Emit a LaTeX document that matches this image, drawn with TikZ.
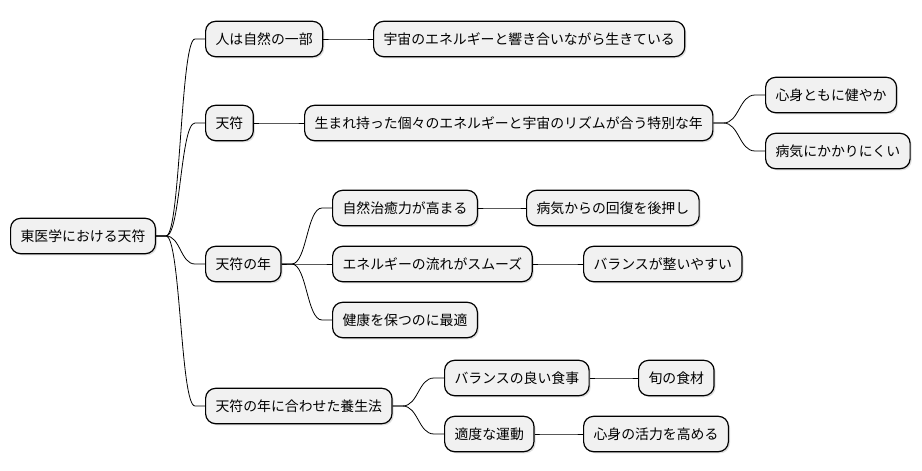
\documentclass[tikz,border=0pt]{standalone}
\usepackage{fontspec}
\setmainfont{Noto Sans CJK JP}
\usetikzlibrary{calc,shadows}
\definecolor{boxfill}{HTML}{F1F1F1}
\tikzset{
  mmbox/.style={draw=black, line width=0.9pt, fill=boxfill, rounded corners=7.5pt,
    anchor=west, minimum height=26.5pt, inner xsep=7.5pt, inner ysep=0pt,
    font=\fontsize{10.4pt}{12pt}\selectfont,
    drop shadow={shadow xshift=1.2pt, shadow yshift=-1.2pt, opacity=0.25}},
  link/.style={draw=black, line width=0.6pt}
}
\newcommand\mmlink[2]{%
  \path ($(#1.east)!0.5!(#2.west)$) coordinate (mm);
  \draw[link] (#1.east) -- ([xshift=7.5pt]#1.east) .. controls (mm |- #1.east) and (mm |- #2.west) .. ([xshift=-7.5pt]#2.west) -- (#2.west);}
\begin{document}
\begin{tikzpicture}[x=0.75pt,y=-0.75pt]
\useasboundingbox (0,0) rectangle (922,471);
\node[mmbox] (root) at (10,236) {東医学における天符};
\node[mmbox] (n1) at (205,39) {人は自然の一部};
\node[mmbox] (n2) at (205,123) {天符};
\node[mmbox] (n3) at (205,264) {天符の年};
\node[mmbox] (n4) at (205,406) {天符の年に合わせた養生法};
\node[mmbox] (n1a) at (373,39) {宇宙のエネルギーと響き合いながら生きている};
\node[mmbox] (n2a) at (304,123) {生まれ持った個々のエネルギーと宇宙のリズムが合う特別な年};
\node[mmbox] (n2a1) at (765,95) {心身ともに健やか};
\node[mmbox] (n2a2) at (765,151) {病気にかかりにくい};
\node[mmbox] (n3a) at (332,208) {自然治癒力が高まる};
\node[mmbox] (n3b) at (332,264) {エネルギーの流れがスムーズ};
\node[mmbox] (n3c) at (332,320) {健康を保つのに最適};
\node[mmbox] (n3a1) at (526,208) {病気からの回復を後押し};
\node[mmbox] (n3b1) at (583,264) {バランスが整いやすい};
\node[mmbox] (n4a) at (444,378) {バランスの良い食事};
\node[mmbox] (n4b) at (444,434) {適度な運動};
\node[mmbox] (n4a1) at (638,378) {旬の食材};
\node[mmbox] (n4b1) at (583,434) {心身の活力を高める};
\mmlink{root}{n1}
\mmlink{root}{n2}
\mmlink{root}{n3}
\mmlink{root}{n4}
\mmlink{n1}{n1a}
\mmlink{n2}{n2a}
\mmlink{n2a}{n2a1}
\mmlink{n2a}{n2a2}
\mmlink{n3}{n3a}
\mmlink{n3}{n3b}
\mmlink{n3}{n3c}
\mmlink{n3a}{n3a1}
\mmlink{n3b}{n3b1}
\mmlink{n4}{n4a}
\mmlink{n4}{n4b}
\mmlink{n4a}{n4a1}
\mmlink{n4b}{n4b1}
\end{tikzpicture}
\end{document}
